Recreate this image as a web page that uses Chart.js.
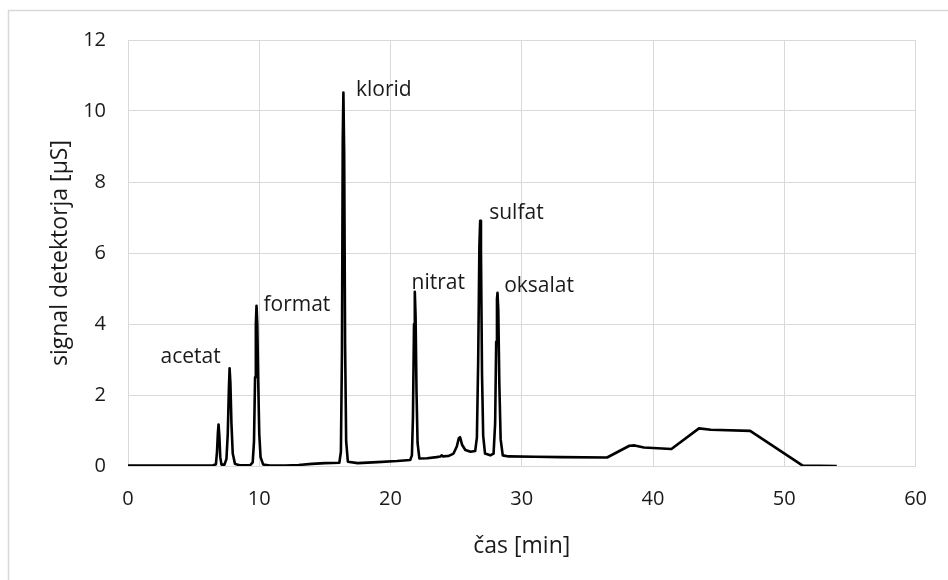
<!DOCTYPE html>
<html>
<head>
<meta charset="utf-8">
<script src="https://cdn.jsdelivr.net/npm/chart.js@4/dist/chart.umd.min.js"></script>
<style>
  html, body { margin: 0; padding: 0; background: #fff; overflow: hidden; }
  #wrap { width: 948px; height: 580px; position: relative; }
  canvas { display: block; }
</style>
</head>
<body>
<div id="wrap"><canvas id="chrom" width="948" height="580"></canvas></div>
<script>
// chromatogram: retention time (min) vs detector signal (µS)
const timeMin = [
  0, 3, 6.5, 6.7, 6.78, 6.85, 6.9, 6.96, 7.03, 7.12,
  7.35, 7.5, 7.6, 7.68, 7.74, 7.8, 7.88, 7.98, 8.15, 8.5,
  9.3, 9.5, 9.6, 9.68, 9.74, 9.79, 9.85, 9.92, 10.0, 10.1,
  10.3, 10.8, 12.0, 13.0, 14.0, 15.0, 16.1, 16.22, 16.3, 16.36,
  16.41, 16.47, 16.54, 16.62, 16.75, 17.5, 19.0, 20.5, 21.5, 21.63,
  21.71, 21.79, 21.85, 21.91, 21.98, 22.06, 22.2, 22.8, 23.5, 23.8,
  23.9, 24.0, 24.4, 24.8, 25.05, 25.2, 25.3, 25.45, 25.7, 26.1,
  26.45, 26.58, 26.68, 26.77, 26.83, 26.89, 26.97, 27.06, 27.2, 27.6,
  27.85, 27.97, 28.05, 28.11, 28.15, 28.21, 28.29, 28.39, 28.55, 29.0,
  31.0, 33.0, 36.5, 38.2, 38.6, 39.3, 41.4, 43.5, 44.4, 47.4,
  51.4, 54.0
];
const signal = [
  0.01, 0.01, 0.02, 0.05, 0.4, 0.95, 1.17, 0.85, 0.25, 0.04,
  0.04, 0.2, 0.9, 2.1, 2.75, 2.35, 1.2, 0.35, 0.06, 0.02,
  0.02, 0.1, 0.7, 2.5, 4.0, 4.51, 4.0, 2.4, 0.9, 0.25,
  0.04, 0.01, 0.01, 0.03, 0.06, 0.08, 0.09, 0.4, 3.2, 9.2,
  10.52, 8.8, 3.4, 0.7, 0.12, 0.08, 0.11, 0.14, 0.17, 0.3,
  1.4, 4.0, 4.91, 4.2, 2.1, 0.65, 0.21, 0.22, 0.25, 0.27,
  0.3, 0.27, 0.28, 0.35, 0.55, 0.78, 0.81, 0.6, 0.45, 0.4,
  0.42, 0.8, 3.0, 6.2, 6.91, 6.1, 2.6, 0.85, 0.35, 0.3,
  0.35, 1.2, 3.5, 4.7, 4.88, 4.4, 2.3, 0.75, 0.3, 0.27,
  0.26, 0.25, 0.24, 0.57, 0.58, 0.52, 0.48, 1.06, 1.02, 0.99,
  0.01, 0.0
];

// peak names and where their text starts (data units)
const peakNames   = ["acetat", "format", "klorid", "nitrat", "sulfat", "oksalat"];
const labelTime   = [2.48, 10.32, 17.37, 21.6, 27.52, 28.66];
const labelSignal = [3.07, 4.54, 10.59, 5.15, 7.14, 5.06];

const xTicks = { min: 0, max: 60, step: 10 };
const yTicks = { min: 0, max: 12, step: 2 };

const FONT = "'Open Sans', 'Liberation Sans', sans-serif";
const INK = "#1a1a1a";
const GRID = "#d9d9d9";

const points = timeMin.map((t, i) => ({ x: t, y: signal[i] }));

const frame = {
  id: "frame",
  beforeDraw(chart) {
    const c = chart.ctx;
    c.save();
    c.fillStyle = "#fff";
    c.fillRect(0, 0, chart.width, chart.height);
    c.strokeStyle = GRID;
    c.lineWidth = 1.5;
    c.strokeRect(8.5, 10.5, chart.width + 20, chart.height + 20);
    c.restore();
  }
};

const peakLabels = {
  id: "peakLabels",
  afterDatasetsDraw(chart) {
    const { ctx: c, scales: { x, y } } = chart;
    c.save();
    c.font = `21px ${FONT}`;
    c.fillStyle = INK;
    c.textAlign = "left";
    c.textBaseline = "middle";
    peakNames.forEach((n, i) => {
      c.fillText(n, x.getPixelForValue(labelTime[i]), y.getPixelForValue(labelSignal[i]));
    });
    c.restore();
  }
};

new Chart(document.getElementById("chrom"), {
  type: "line",
  data: {
    datasets: [{
      data: points,
      borderColor: "#000",
      borderWidth: 2.6,
      borderJoinStyle: "round",
      pointRadius: 0,
      tension: 0,
      fill: false,
    }],
  },
  options: {
    responsive: false, animation: false,
    layout: { padding: { top: 40, right: 26, left: 0, bottom: 0 } },
    plugins: { legend: { display: false }, tooltip: { enabled: false } },
    scales: {
      x: {
        type: "linear", min: xTicks.min, max: xTicks.max,
        ticks: { stepSize: xTicks.step, color: INK, font: { family: FONT, size: 20 }, padding: 21, maxRotation: 0 },
        grid: { color: GRID, drawTicks: false },
        border: { color: GRID },
        title: { display: true, text: "čas [min]", color: INK, font: { family: FONT, size: 23 }, padding: { top: 0, bottom: 20 } },
        afterFit: s => { s.height = 114; },
      },
      y: {
        min: yTicks.min, max: yTicks.max,
        ticks: { stepSize: yTicks.step, color: INK, font: { family: FONT, size: 20 }, padding: 22 },
        grid: { color: GRID, drawTicks: false },
        border: { color: GRID },
        title: { display: true, text: "signal detektorja [µS]", color: INK, font: { family: FONT, size: 23 }, padding: { top: 47, bottom: 0 } },
        afterFit: s => { s.width = 128; },
      },
    },
  },
  plugins: [frame, peakLabels],
});
</script>
</body>
</html>
